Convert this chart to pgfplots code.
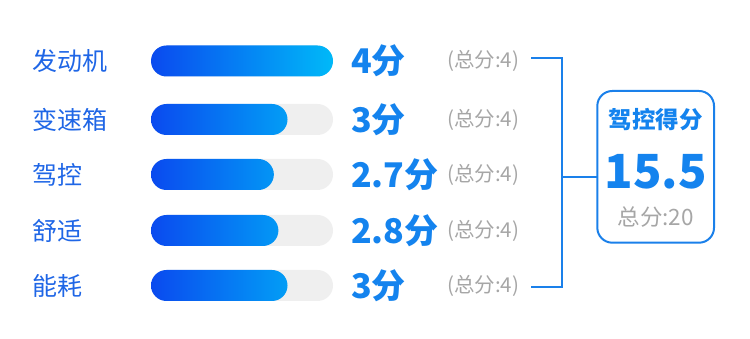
\documentclass[border=0pt]{standalone}
\usepackage{pgfplots}
\pgfplotsset{compat=1.18}
\usepackage{fontspec}
\setmainfont{Noto Sans CJK SC}
\definecolor{lbl}{HTML}{1F66E6}
\definecolor{val}{HTML}{1483EE}
\definecolor{gtx}{HTML}{A6A6A6}
\definecolor{lnc}{HTML}{1A80EA}
\definecolor{gA}{HTML}{0A4AEF}
\definecolor{gB}{HTML}{00B9F8}
\definecolor{bgc}{HTML}{EFEFEF}
\begin{document}
\begin{tikzpicture}
\begin{axis}[
  x=45.5pt, y=1pt,
  xmin=-3.31868, xmax=13.16484, ymin=0, ymax=339,
  hide axis, clip=false,
]
\path (rel axis cs:0,0) rectangle (rel axis cs:1,1);
% background track (full score = 4)
\addplot[xbar, bar shift=0pt, bar width=31pt, fill=bgc, draw=none, rounded corners=15.5pt]
  coordinates {(4,278) (4,219.5) (4,164.5) (4,108.5) (4,53.5)};
% scores
\addplot[xbar, bar shift=0pt, bar width=31pt, draw=none, left color=gA, right color=gB, rounded corners=15.5pt]
  coordinates {(4,278) (3,219.5) (2.7,164.5) (2.8,108.5) (3,53.5)};
% category labels
\begin{scope}[every node/.style={anchor=west, inner sep=0pt, text=lbl, font=\fontsize{25}{25}\selectfont}]
\node at (axis cs:-2.60,278) {发动机};
\node at (axis cs:-2.60,219.5) {变速箱};
\node at (axis cs:-2.60,164.5) {驾控};
\node at (axis cs:-2.60,108.5) {舒适};
\node at (axis cs:-2.60,53.5) {能耗};
\end{scope}
\begin{scope}[every node/.style={anchor=west, inner sep=0pt, text=val, font=\fontsize{34}{34}\selectfont\bfseries}]
\node at (axis cs:4.396,278) {4分};
\node at (axis cs:4.396,219.5) {3分};
\node at (axis cs:4.396,164.5) {2.7分};
\node at (axis cs:4.396,108.5) {2.8分};
\node at (axis cs:4.396,53.5) {3分};
\end{scope}
\begin{scope}[every node/.style={anchor=west, inner sep=0pt, text=gtx, font=\fontsize{20.5}{20.5}\selectfont}]
\node at (axis cs:6.505,278) {(总分:4)};
\node at (axis cs:6.505,219.5) {(总分:4)};
\node at (axis cs:6.505,164.5) {(总分:4)};
\node at (axis cs:6.505,108.5) {(总分:4)};
\node at (axis cs:6.505,53.5) {(总分:4)};
\end{scope}
% bracket
\draw[lnc, line width=2pt] (axis cs:8.352,280.7) -- (axis cs:9.026,280.7) -- (axis cs:9.026,51.7) -- (axis cs:8.352,51.7);
\draw[lnc, line width=2pt] (axis cs:9.026,161.7) -- (axis cs:9.809,161.7);
% total box
\draw[lnc, line width=2pt, rounded corners=15pt] (axis cs:9.809,96.3) rectangle (axis cs:12.374,248);
\node[inner sep=0pt, text=val, font=\fontsize{23.5}{23.5}\selectfont\bfseries] at (axis cs:11.092,219.7) {驾控得分};
\node[inner sep=0pt, text=val, font=\fontsize{47}{47}\selectfont\bfseries] at (axis cs:11.092,167) {15.5};
\node[inner sep=0pt, text=gtx, font=\fontsize{22.5}{22.5}\selectfont] at (axis cs:11.092,122.3) {总分:20};
\end{axis}
\end{tikzpicture}
\end{document}
